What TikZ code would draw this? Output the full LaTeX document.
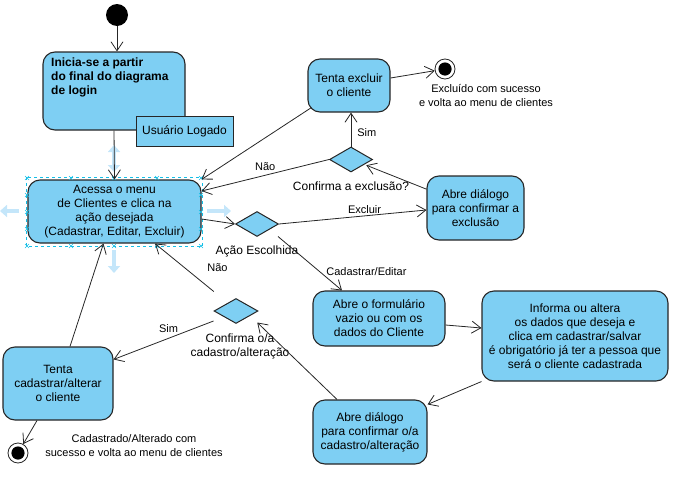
\documentclass[tikz,border=0pt]{standalone}
\usepackage{fontspec}
\setmainfont{Liberation Sans}
\usetikzlibrary{shapes.geometric,arrows.meta,positioning}
\definecolor{estado}{RGB}{126,207,243}
\definecolor{selec}{RGB}{20,190,230}
\definecolor{alca}{RGB}{196,230,250}
\tikzset{
    atividade/.style={draw=black!85, line width=1.1pt, fill=estado, rounded corners=12pt,
        align=center, inner sep=0pt, font=\fontsize{12}{14}\selectfont},
    decisao/.style={draw=black!85, line width=1pt, fill=estado, diamond, inner sep=0pt,
        minimum width=43pt, minimum height=25pt},
    rotulo/.style={inner sep=0pt, align=center, font=\fontsize{11}{14}\selectfont},
    texto/.style={inner sep=0pt, align=center, font=\fontsize{12}{14}\selectfont},
    seta/.style={draw=black!85, line width=0.8pt, -{Straight Barb[length=9pt,width=12pt]}},
    inicio/.style={circle, fill=black, minimum size=22pt, inner sep=0pt},
    fim/.style={circle, draw=black!85, fill=white, line width=0.8pt, minimum size=20pt, inner sep=0pt,
        path picture={\fill[black] (path picture bounding box.center) circle (6.6pt);}},
    alcaseta/.style={alca, line width=4pt, -{Triangle[length=7pt,width=12pt]}}
}
\begin{document}
\begin{tikzpicture}[x=1pt,y=-1pt]
            \useasboundingbox (0,0) rectangle (675,485);
            % estados
            \node[inicio] (start) at (117,15) {};
            \node[atividade, minimum width=142pt, minimum height=78pt] (ini) at (114,91) {};
            \node[anchor=north west, align=left, inner sep=0pt, font=\fontsize{12}{14}\selectfont\bfseries]
                (initxt) at (51,58) {Inicia-se a partir\\do final do diagrama\\de login};
            \node[draw=black!85, line width=1pt, fill=estado, minimum width=97pt, minimum height=30pt,
                inner sep=0pt, font=\fontsize{12}{14}\selectfont] (logado) at (184.5,131) {Usuário Logado};
            \node[atividade, minimum width=173pt, minimum height=63pt] (menu) at (114.5,211.5)
                {Acessa o menu\\de Clientes e clica na\\ação desejada\\(Cadastrar, Editar, Excluir)};
            \node[decisao] (acao) at (257,224) {};
            \node[texto, below=9pt of acao] (acaotxt) {Ação Escolhida};
            \node[atividade, minimum width=97pt, minimum height=64pt] (confexc) at (475.5,208)
                {Abre diálogo\\para confirmar a\\exclusão};
            \node[decisao] (dexc) at (351,159.5) {};
            \node[texto, below=9pt of dexc] (dexctxt) {Confirma a exclusão?};
            \node[atividade, minimum width=82pt, minimum height=53pt] (excl) at (349,85.5)
                {Tenta excluir\\o cliente};
            \node[fim] (fim1) at (445,69) {};
            \node[rotulo] (fim1txt) at (486,96) {Excluído com sucesso\\e volta ao menu de clientes};
            \node[atividade, minimum width=132pt, minimum height=55pt] (form) at (379,318.5)
                {Abre o formulário\\vazio ou com os\\dados do Cliente};
            \node[atividade, minimum width=186pt, minimum height=90pt] (info) at (575,336)
                {Informa ou altera\\os dados que deseja e\\clica em cadastrar/salvar\\é obrigatório já ter a pessoa que\\será o cliente cadastrada};
            \node[atividade, minimum width=114pt, minimum height=64pt] (confcad) at (370,432)
                {Abre diálogo\\para confirmar o/a\\cadastro/alteração};
            \node[decisao, minimum width=44pt] (dcad) at (236,311) {};
            \node[texto, below=10pt of dcad, xshift=4pt] (dcadtxt) {Confirma o/a\\cadastro/alteração};
            \node[atividade, minimum width=110pt, minimum height=73pt] (cad) at (58,383.5)
                {Tenta\\cadastrar/alterar\\o cliente};
            \node[fim] (fim2) at (18,453) {};
            \node[rotulo] (fim2txt) at (134,446) {Cadastrado/Alterado com\\sucesso e volta ao menu de clientes};
            % selecao do estado
            \draw[selec, dashed, line width=0.8pt] ([xshift=-1pt,yshift=2pt]menu.north west)
                rectangle ([xshift=1pt,yshift=-3pt]menu.south east);
            \foreach \x in {27,71,114,157,201}
                \foreach \y in {178,246}
                    \draw[selec, line width=0.6pt] (\x-2,\y-2) -- (\x+2,\y+2) (\x-2,\y+2) -- (\x+2,\y-2);
            \foreach \y in {195,212,229}
                \foreach \x in {27,201}
                    \draw[selec, line width=0.6pt] (\x-2,\y-2) -- (\x+2,\y+2) (\x-2,\y+2) -- (\x+2,\y-2);
            \draw[alcaseta, {Triangle[length=7pt,width=12pt]}-{Triangle[length=7pt,width=12pt]}] (114,145) -- (114,172);
            \draw[alcaseta] (19,211) -- (0,211);
            \draw[alcaseta] (207,211) -- (231,211);
            \draw[alcaseta] (114,250) -- (114,273);
            % transicoes
            \draw[seta] (start) -- (start |- ini.north);
            \draw[seta] (ini.south) -- (menu.north);
            \draw[seta] ([yshift=-7.5pt]menu.east) -- (acao.west);
            \draw[seta] (acao.east) -- node[rotulo, above=2pt, pos=.58] {Excluir} ([yshift=-2pt]confexc.west);
            \draw[seta] (confexc.159) -- ([xshift=3pt]dexc.-25);
            \draw[seta] (dexc.north) -- node[rotulo, right=6pt, pos=.4] {Sim} (dexc.north |- excl.south);
            \draw[seta] (dexc.west) -- node[rotulo, above=4pt, pos=.5] {Não} ([yshift=20.5pt]menu.east);
            \draw[seta] ([xshift=4pt,yshift=5pt]excl.south west) -- (menu.north east);
            \draw[seta] ([yshift=7.5pt]excl.east) -- (fim1);
            \draw[seta] ([xshift=10pt,yshift=-6pt]acao.south east) -- node[rotulo, above right=1pt and 0pt, pos=.75] {Cadastrar/Editar} ([xshift=-37pt]form.north);
            \draw[seta] ([yshift=-6.5pt]form.east) -- ([yshift=8pt]info.west);
            \draw[seta] (info.south west) -- ([yshift=-5pt]confcad.north east);
            \draw[seta] ([xshift=-33pt]confcad.north) -- ([xshift=10pt,yshift=-5pt]dcad.south east);
            \draw[seta] ([xshift=-11pt,yshift=13pt]dcad.north west) -- node[rotulo, pos=.2, above right=10pt and 5pt] {Não} ([xshift=40.5pt]menu.south);
            \draw[seta] ([yshift=-10pt]dcad.west) -- node[rotulo, above=5pt, pos=.45] {Sim} ([yshift=-13pt]cad.north east);
            \draw[seta] ([xshift=12pt]cad.north) -- ([xshift=-11pt]menu.south);
            \draw[seta] ([xshift=-21pt]cad.south) -- (fim2);
        \end{tikzpicture}
\end{document}
